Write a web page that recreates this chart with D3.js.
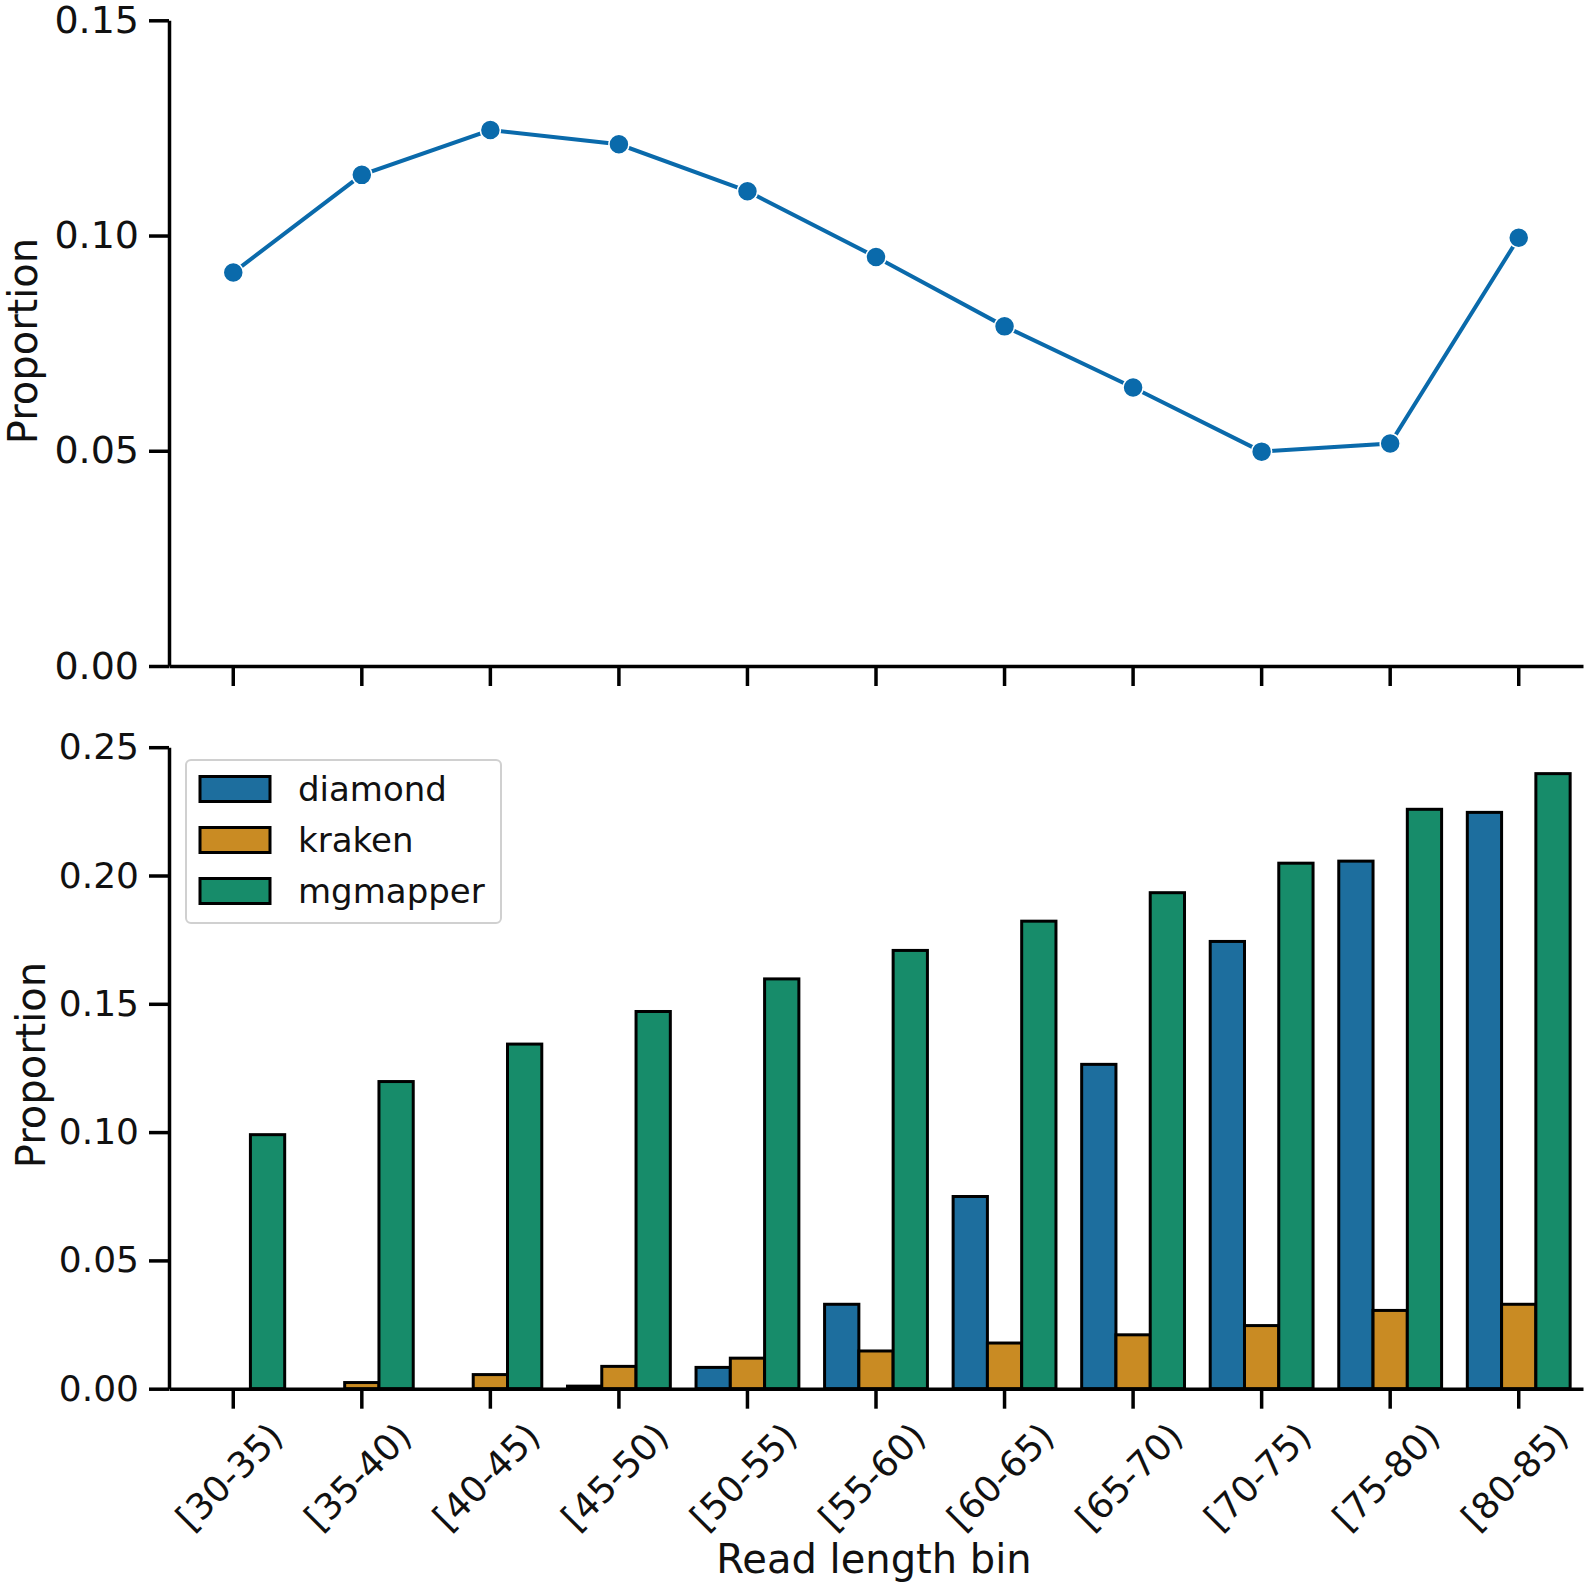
<!DOCTYPE html>
<html><head><meta charset="utf-8">
<script src="https://cdn.jsdelivr.net/npm/d3@7"></script>
<style>body{margin:0;background:#fff}svg{display:block}text{font-family:"DejaVu Sans",sans-serif;fill:#111}</style>
</head><body>
<script>
const categories = ["[30-35)","[35-40)","[40-45)","[45-50)","[50-55)","[55-60)","[60-65)","[65-70)","[70-75)","[75-80)","[80-85)"];
const lineValues = [0.0914,0.1141,0.1245,0.1212,0.1103,0.0950,0.0789,0.0647,0.0498,0.0517,0.0995];
const seriesNames = ["diamond","kraken","mgmapper"];
const diamondValues = [0,0,0,0.001,0.0083,0.0329,0.0749,0.1264,0.1743,0.2056,0.2246];
const krakenValues = [0,0.0024,0.0055,0.0087,0.0119,0.0147,0.0178,0.021,0.0246,0.0305,0.0329];
const mgmapperValues = [0.099,0.1197,0.1343,0.147,0.1597,0.1708,0.1822,0.1933,0.2048,0.2258,0.2397];
const topTicks = [0,0.05,0.10,0.15];
const bottomTicks = [0,0.05,0.10,0.15,0.20,0.25];
const colors = ["#1d6e9e","#c98b23","#178c6a"];
const lineColor = "#0a6aab";

const W=1594,H=1594;
const svg=d3.select("body").append("svg").attr("width",W).attr("height",H);
const x=d3.scaleBand().domain(categories).range([169,1583]).padding(0);
const yTop=d3.scaleLinear().domain([0,0.15]).range([666,20.3]);
const yBot=d3.scaleLinear().domain([0,0.25]).range([1388.7,747.2]);

function styleAxis(g){
  g.select(".domain").attr("stroke","#000").attr("stroke-width",3.5);
  g.selectAll(".tick line").attr("stroke","#000").attr("stroke-width",3.5);
  g.selectAll(".tick text").style("font-family","DejaVu Sans").attr("font-size",36).attr("fill","#111");
}
// top panel axes
const gyT=svg.append("g").attr("transform","translate(169,0)")
  .call(d3.axisLeft(yTop).tickValues(topTicks).tickFormat(d3.format(".2f")).tickSize(20).tickPadding(10).tickSizeOuter(0));
styleAxis(gyT);
gyT.selectAll(".tick text").attr("font-size",38);
const gxT=svg.append("g").attr("transform","translate(0,666)")
  .call(d3.axisBottom(x).tickSize(20).tickSizeOuter(0).tickFormat(""));
styleAxis(gxT);

const line=d3.line().x((d,i)=>x(categories[i])+x.bandwidth()/2).y(d=>yTop(d));
svg.append("path").datum(lineValues).attr("d",line).attr("fill","none").attr("stroke",lineColor).attr("stroke-width",4);
svg.selectAll("circle.pt").data(lineValues).join("circle").attr("class","pt")
  .attr("cx",(d,i)=>x(categories[i])+x.bandwidth()/2).attr("cy",d=>yTop(d)).attr("r",10)
  .attr("fill",lineColor).attr("stroke","#fff").attr("stroke-width",1.5);

svg.append("text").attr("transform","translate(37,341) rotate(-90)").attr("text-anchor","middle")
  .attr("font-size",40).text("Proportion");

// bottom panel
const x1=d3.scaleBand().domain(seriesNames).range([0,x.bandwidth()]).paddingInner(0).paddingOuter(0.375);
const all=[diamondValues,krakenValues,mgmapperValues];
seriesNames.forEach((s,si)=>{
  svg.append("g").selectAll("rect").data(all[si]).join("rect")
    .attr("x",(d,i)=>x(categories[i])+x1(s))
    .attr("width",x1.bandwidth())
    .attr("y",d=>yBot(d)).attr("height",d=>yBot(0)-yBot(d))
    .attr("fill",colors[si]).attr("stroke","#000").attr("stroke-width",d=>d>0?3:0);
});
const gyB=svg.append("g").attr("transform","translate(169,0)")
  .call(d3.axisLeft(yBot).tickValues(bottomTicks).tickFormat(d3.format(".2f")).tickSize(20).tickPadding(10).tickSizeOuter(0));
styleAxis(gyB);
const gxB=svg.append("g").attr("transform","translate(0,1388.7)")
  .call(d3.axisBottom(x).tickSize(20).tickSizeOuter(0));
styleAxis(gxB);
gxB.selectAll(".tick text").attr("text-anchor","middle").attr("dy",null).attr("y",null)
  .attr("dominant-baseline","central")
  .attr("transform","translate(-4,88) rotate(-45)");

svg.append("text").attr("transform","translate(45,1065) rotate(-90)").attr("text-anchor","middle")
  .attr("font-size",40).text("Proportion");
svg.append("text").attr("x",874).attr("y",1573).attr("text-anchor","middle").attr("font-size",40).text("Read length bin");

// legend
const lg=svg.append("g");
lg.append("rect").attr("x",186).attr("y",760).attr("width",315).attr("height",163).attr("rx",5)
  .attr("fill","#fff").attr("fill-opacity",0.8).attr("stroke","#d0d0d0").attr("stroke-width",2);
seriesNames.forEach((s,i)=>{
  const cy=789+i*51;
  lg.append("rect").attr("x",200).attr("y",cy-12.5).attr("width",70).attr("height",25)
    .attr("fill",colors[i]).attr("stroke","#000").attr("stroke-width",3);
  lg.append("text").attr("x",298).attr("y",cy).attr("dominant-baseline","central").attr("font-size",34).text(s);
});
</script>
</body></html>
